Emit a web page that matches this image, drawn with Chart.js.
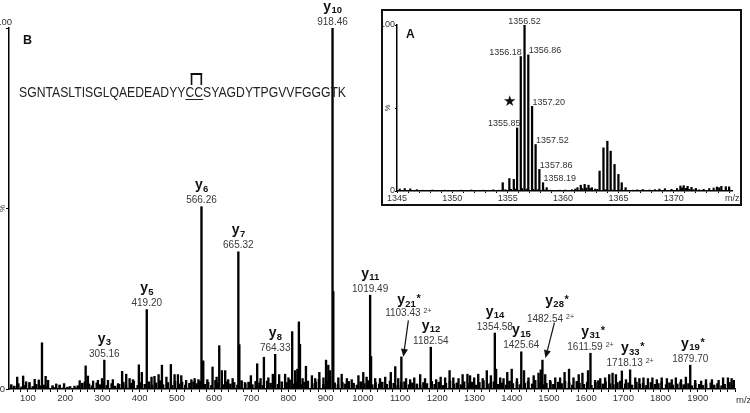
<!DOCTYPE html>
<html>
<head>
<meta charset="utf-8">
<title>MS/MS spectrum</title>
<script src="https://cdn.jsdelivr.net/npm/chart.js@4.4.1/dist/chart.umd.min.js"></script>
<style>
  html, body { margin:0; padding:0; background:#fff; }
  #wrap { position:relative; width:750px; height:413px; overflow:hidden; font-family:"Liberation Sans", Arial, sans-serif; }
  #main { position:absolute; left:0; top:0; }
  #insetBox { position:absolute; left:381px; top:9px; width:357px; height:193px; border:2px solid #111; background:#fff; }
  #inset { position:absolute; left:0; top:0; }
  .lbl { position:absolute; white-space:nowrap; line-height:1; }
  #panelB { left:23px; top:34px; font-weight:bold; font-size:12.5px; color:#111; }
  #seq { left:19px; top:83px; font-size:15px; line-height:17px; color:#222; transform-origin:0 0; }
  #cc { position:relative; text-decoration:underline; text-decoration-thickness:1px; text-underline-offset:2px; }
  #bridge { position:absolute; left:6px; right:1px; top:-10px; height:12px; border:2px solid #111; border-bottom:none; box-sizing:border-box; }
  #mzMain { left:736px; top:395px; font-size:9.5px; color:#333; }
  #panelA { left:23px; top:17px; font-weight:bold; font-size:12px; color:#111; }
  #star { left:120px; top:83px; font-size:15px; color:#111; font-family:"DejaVu Sans", sans-serif; }
  #mzInset { left:342px; top:183px; font-size:9px; color:#333; }
</style>
</head>
<body>
<div id="wrap">
  <canvas id="main" width="750" height="413"></canvas>
  <div class="lbl" id="panelB">B</div>
  <div class="lbl" id="seq">SGNTASLTISGLQAEDEADYY<span id="cc">CC<span id="bridge"></span></span>SYAGDYTPGVVFGGGTK</div>
  <div class="lbl" id="mzMain">m/z</div>
  <div id="insetBox">
    <canvas id="inset" width="357" height="193"></canvas>
    <div class="lbl" id="panelA">A</div>
    <div class="lbl" id="star">★</div>
    <div class="lbl" id="mzInset">m/z</div>
  </div>
</div>
<script>
// ---------------- DATA: main spectrum (panel B) ----------------
// prominent and secondary peaks (m/z, relative intensity %)
const peakMz = [71, 87, 95, 118, 129, 137.6, 147.5, 154, 176, 197,
  225, 239, 255, 261, 275, 288, 299, 305.16, 315, 328,
  342, 353, 364, 373, 382, 398, 406, 419.20, 432, 440,
  451, 460, 472, 484, 494, 503, 512, 525, 539, 548,
  558, 566.26, 571, 582, 596, 607, 614, 621, 630, 638,
  650, 665.32, 668, 683, 699, 716, 725, 734, 746, 758,
  764.33, 775, 791, 800, 810, 818, 824, 828, 831, 838,
  847, 863, 872, 883, 894, 901, 907, 912, 918.46, 920.5,
  934, 943, 957, 970, 988, 1001, 1010, 1019.49, 1022, 1033,
  1046, 1060, 1075, 1087, 1095, 1103.43, 1116, 1127, 1138, 1154,
  1167, 1182.54, 1197, 1209, 1221, 1233, 1243, 1257, 1268, 1281,
  1288, 1299, 1310, 1322, 1333, 1344, 1354.58, 1358, 1369, 1378,
  1388, 1400, 1414, 1425.64, 1433, 1445, 1459, 1472, 1478, 1482.54,
  1490, 1503, 1517, 1530, 1542, 1554, 1566, 1580, 1590, 1605,
  1611.59, 1624, 1638, 1651, 1662, 1671, 1680, 1696, 1707, 1718.13,
  1732, 1743, 1754, 1766, 1778, 1790, 1803, 1817, 1830, 1841,
  1855, 1868, 1879.70, 1893, 1909, 1922, 1938, 1956, 1968, 1981,
  1991, 1997];
const peakInt = [3.3, 3.6, 2.0, 2.7, 2.5, 12.8, 3.5, 2.4, 1.4, 1.5,
  0.8, 2.3, 6.4, 3.6, 2.2, 2.4, 2.9, 8.0, 2.4, 2.6,
  1.5, 4.9, 4.1, 2.9, 2.6, 6.7, 4.6, 22.0, 3.3, 3.5,
  4.0, 6.6, 3.3, 6.8, 4.0, 4.0, 3.7, 2.4, 2.6, 2.9,
  2.6, 50.5, 7.8, 2.6, 6.1, 3.3, 12.0, 5.1, 5.1, 2.6,
  2.9, 38.0, 12.3, 1.8, 3.7, 7.0, 2.9, 8.8, 3.1, 4.1,
  9.6, 4.0, 4.1, 3.1, 15.9, 5.1, 5.5, 18.6, 12.4, 2.9,
  6.3, 3.7, 2.9, 4.6, 3.1, 8.0, 6.6, 5.1, 100, 27.0,
  3.1, 4.1, 2.9, 2.6, 3.7, 4.6, 3.3, 26.0, 9.0, 2.9,
  2.9, 3.3, 4.6, 6.2, 2.9, 8.9, 2.9, 2.6, 3.1, 4.0,
  2.9, 11.6, 2.6, 3.3, 3.1, 5.1, 3.1, 2.9, 4.0, 4.1,
  3.7, 3.1, 4.1, 2.9, 5.1, 3.7, 15.5, 5.5, 3.1, 2.9,
  4.6, 5.5, 2.9, 10.3, 5.1, 3.1, 3.7, 4.4, 5.3, 8.0,
  4.0, 2.4, 3.1, 3.1, 4.6, 5.5, 3.1, 4.0, 4.4, 5.1,
  9.9, 2.4, 2.9, 3.1, 4.0, 4.4, 4.0, 5.0, 2.6, 5.3,
  3.1, 2.9, 3.1, 2.9, 3.1, 2.6, 3.1, 2.9, 2.6, 3.1,
  2.6, 3.3, 6.6, 2.4, 2.2, 2.6, 2.6, 2.4, 3.1, 3.1,
  2.9, 2.4];
// low-level baseline noise read along the axis
const grassMz = [55, 63, 74, 83, 92, 104, 113, 122, 133, 144,
  152, 166, 173, 185, 194, 206, 213, 227, 234, 246,
  253, 264, 272, 285, 293, 303, 312, 325, 334, 345,
  356, 363, 376, 384, 395, 403, 414, 425, 433, 444,
  455, 463, 476, 487, 495, 506, 514, 523, 534, 545,
  553, 562, 575, 584, 593, 604, 612, 626, 635, 644,
  654, 663, 674, 684, 693, 703, 712, 722, 731, 743,
  752, 763, 772, 782, 795, 803, 813, 822, 834, 843,
  852, 864, 873, 882, 894, 903, 911, 924, 933, 945,
  953, 962, 975, 984, 994, 1004, 1013, 1025, 1034, 1044,
  1052, 1064, 1073, 1083, 1094, 1103, 1112, 1124, 1133, 1145,
  1154, 1163, 1172, 1185, 1193, 1204, 1215, 1223, 1234, 1245,
  1253, 1264, 1272, 1284, 1293, 1305, 1313, 1324, 1335, 1343,
  1352, 1364, 1373, 1385, 1394, 1403, 1414, 1422, 1435, 1444,
  1455, 1463, 1474, 1485, 1493, 1504, 1512, 1525, 1534, 1543,
  1554, 1563, 1575, 1582, 1594, 1603, 1614, 1625, 1633, 1645,
  1652, 1664, 1673, 1684, 1692, 1705, 1714, 1723, 1735, 1744,
  1753, 1762, 1774, 1785, 1794, 1803, 1815, 1824, 1833, 1845,
  1854, 1862, 1875, 1884, 1893, 1904, 1913, 1922, 1935, 1944,
  1953, 1964, 1972, 1985, 1994];
const grassInt = [1.2, 0.8, 1.5, 0.6, 1.0, 1.8, 0.7, 1.3, 0.9, 1.1,
  0.6, 0.9, 0.4, 1.1, 0.3, 0.5, 0.7, 0.4, 0.9, 1.6,
  2.0, 1.4, 0.9, 1.7, 1.2, 2.1, 1.0, 1.5, 0.8, 1.3,
  1.9, 1.1, 1.6, 2.2, 1.0, 1.8, 1.3, 2.0, 1.1, 1.7,
  2.3, 1.2, 1.8, 1.0, 2.1, 1.4, 1.9, 1.1, 1.6, 2.0,
  1.5, 2.2, 1.3, 1.9, 1.0, 2.4, 1.6, 1.2, 2.0, 1.4,
  1.8, 1.1, 2.3, 1.5, 1.9, 1.2, 2.1, 1.7, 1.0, 2.2,
  1.6, 2.4, 1.3, 2.0, 1.8, 2.5, 1.4, 2.1, 1.2, 1.9,
  2.2, 1.5, 1.9, 2.6, 1.3, 2.0, 2.4, 1.7, 1.2, 1.8,
  1.4, 2.1, 1.6, 1.1, 2.0, 1.5, 2.3, 1.2, 1.8, 1.4,
  1.9, 1.3, 2.2, 1.6, 1.0, 1.8, 2.0, 1.2, 1.7, 1.4,
  1.1, 1.8, 1.5, 2.1, 1.3, 1.9, 1.0, 1.6, 2.2, 1.4,
  1.7, 1.2, 2.0, 1.5, 1.9, 1.1, 1.8, 2.3, 1.4, 1.6,
  2.0, 1.3, 1.7, 1.1, 2.2, 1.5, 1.9, 1.2, 1.6, 2.1,
  1.4, 2.4, 1.8, 1.2, 1.6, 2.0, 1.3, 1.9, 1.5, 2.2,
  1.7, 1.1, 2.1, 1.6, 1.3, 1.9, 1.0, 1.8, 2.3, 1.4,
  2.0, 1.5, 1.2, 1.8, 2.2, 1.4, 1.7, 1.1, 1.9, 1.3,
  1.6, 1.0, 1.8, 1.3, 1.5, 2.0, 1.2, 1.7, 1.1, 1.4,
  1.9, 1.2, 1.5, 0.9, 1.6, 1.3, 1.0, 1.4, 1.7, 1.1,
  1.5, 0.9, 1.3, 1.8, 1.0];
// annotated y-ions
const ionMz     = [305.16, 419.20, 566.26, 665.32, 764.33, 918.46, 1019.49, 1103.43, 1182.54, 1354.58, 1425.64, 1482.54, 1611.59, 1718.13, 1879.70];
const ionSub    = ['3', '5', '6', '7', '8', '10', '11', '21', '12', '14', '15', '28', '31', '33', '19'];
const ionStar   = [false, false, false, false, false, false, false, true, false, false, false, true, true, true, true];
const ionCharge = ['', '', '', '', '', '', '', '2+', '', '', '', '2+', '2+', '2+', ''];
const xTickLabels = [100, 200, 300, 400, 500, 600, 700, 800, 900, 1000, 1100, 1200, 1300, 1400, 1500, 1600, 1700, 1800, 1900];
const yTicks = [0, 50, 100];

// ---------------- DATA: inset (panel A) ----------------
const insetMz  = [1354.55, 1355.15, 1355.55, 1355.85, 1356.18, 1356.52, 1356.86, 1357.20, 1357.52, 1357.86,
  1358.19, 1358.52, 1361.3, 1361.6, 1361.95, 1362.3, 1362.6, 1363.3, 1363.65, 1364.0,
  1364.3, 1364.65, 1365.0, 1365.3, 1365.65, 1370.6, 1370.9, 1371.25, 1371.6, 1372.0,
  1373.9, 1374.3, 1374.7, 1375.0];
const insetInt = [5, 7.5, 7, 38, 81, 100, 82, 51, 28, 13,
  5, 2, 2, 3.5, 4, 3.5, 2, 12, 26, 30,
  24, 16, 10, 5, 2, 3, 3.2, 2.8, 2.2, 1.5,
  2.4, 2.8, 2.6, 2.5];
const insetGrassMz = [1345.25, 1345.7, 1346.2, 1346.8, 1347.3, 1347.75, 1348.2, 1348.8, 1349.3, 1349.7,
  1350.2, 1350.8, 1351.3, 1351.7, 1352.2, 1352.8, 1353.3, 1353.7, 1354.2, 1354.8,
  1355.3, 1355.7, 1356.3, 1356.7, 1357.3, 1357.7, 1358.3, 1358.8, 1359.3, 1359.7,
  1360.2, 1360.8, 1361.1, 1361.75, 1362.1, 1362.45, 1362.9, 1363.1, 1363.8, 1364.45,
  1365.2, 1365.8, 1366.3, 1366.7, 1367.2, 1367.8, 1368.3, 1368.7, 1369.2, 1369.8,
  1370.3, 1370.75, 1371.1, 1371.4, 1371.8, 1372.3, 1372.7, 1373.2, 1373.6, 1374.1];
const insetGrassInt = [1.2, 1.5, 1.3, 0.8, 0.5, 0.4, 0.6, 0.3, 0.5, 0.4,
  0.3, 0.5, 0.4, 0.6, 0.3, 0.5, 0.4, 0.7, 0.5, 0.8,
  1.0, 1.2, 1.5, 1.2, 1.0, 0.8, 0.6, 0.5, 0.4, 0.5,
  0.6, 0.8, 1.2, 1.5, 1.8, 1.5, 1.2, 1.0, 0.8, 0.6,
  0.6, 0.4, 0.5, 0.7, 0.9, 0.6, 0.8, 1.2, 1.4, 1.0,
  1.5, 1.8, 1.6, 1.0, 0.8, 0.7, 1.0, 1.5, 1.8, 2.0];
const insetLabelMz = [1356.52, 1356.18, 1356.86, 1357.20, 1355.85, 1357.52, 1357.86, 1358.19];
const insetTickLabels = [1345, 1350, 1355, 1360, 1365, 1370];

// ---------------- LAYOUT / STYLE ----------------
const FAM = '"Liberation Sans", Arial, sans-serif';
const NUM_FONT = '10px ' + FAM;
const ION_FONT = 'bold 14px ' + FAM;
const SUB_FONT = 'bold 9.5px ' + FAM;
const CHG_FONT = '7px ' + FAM;
const STAR_FONT = 'bold 11px ' + FAM;
const INSET_FONT = '9px ' + FAM;
// callout placement for the ions labelled with an arrow (pixel offsets)
const calloutOffsets = {
  '1103.43': { labelDx: 7, lift: 37, ionDx: -2, ionGap: 12, from: [7, 4], to: [2, 0] },
  '1482.54': { labelDx: 8, lift: 35, ionDx: 4, ionGap: 17, from: [12, 1], to: [3, -2] }
};
const insetLabelAlign = ['center', 'right', 'left', 'left', 'right', 'left', 'left', 'left'];
const insetLabelDx = [0, 1, 0.5, 0.5, 3.5, 0.5, 0.5, 0.5];

Chart.defaults.font.family = FAM;

function pts(xs, ys) { return xs.map((v, i) => ({ x: v, y: ys[i] })); }

const xMinor = [];
for (let v = 60; v <= 2000; v += 20) xMinor.push(v);
const insetMinor = [];
for (let v = 1345; v <= 1375; v += 1) insetMinor.push(v);

const mainAnnot = {
  id: 'mainAnnot',
  afterDraw(chart) {
    const ctx = chart.ctx, xs = chart.scales.x, ys = chart.scales.y;
    ctx.save();
    ctx.textBaseline = 'alphabetic';
    ctx.textAlign = 'left';
    ionMz.forEach((m, i) => {
      const k = peakMz.indexOf(m);
      const px = xs.getPixelForValue(m);
      const top = ys.getPixelForValue(peakInt[k]);
      const co = calloutOffsets[m.toFixed(2)];
      const cx = px + (co ? co.labelDx : 0);
      const numBase = top - 3.5 - (co ? co.lift : 0);
      const yBase = numBase - (co ? co.ionGap : 14);
      const num = m.toFixed(2);
      ctx.font = NUM_FONT;
      const wn = ctx.measureText(num).width;
      let wc = 0, gap = 0;
      if (ionCharge[i]) { ctx.font = CHG_FONT; wc = ctx.measureText(ionCharge[i]).width; gap = 3; }
      const sx = cx - (wn + gap + wc) / 2;
      ctx.fillStyle = '#3a3a3a';
      ctx.font = NUM_FONT; ctx.fillText(num, sx, numBase);
      if (ionCharge[i]) { ctx.font = CHG_FONT; ctx.fillText(ionCharge[i], sx + wn + gap, numBase - 3); }
      ctx.fillStyle = '#111';
      ctx.font = ION_FONT; const wy = ctx.measureText('y').width;
      ctx.font = SUB_FONT; const ws = ctx.measureText(ionSub[i]).width;
      const ix = cx + (co ? co.ionDx : 0) - (wy + ws) / 2;
      ctx.font = ION_FONT; ctx.fillText('y', ix, yBase);
      ctx.font = SUB_FONT; ctx.fillText(ionSub[i], ix + wy + 0.3, yBase + 2.7);
      if (ionStar[i]) { ctx.font = STAR_FONT; ctx.fillText('*', ix + wy + ws + 1, yBase - 2); }
      if (co) {
        const fx = px + co.from[0], fy = numBase + co.from[1];
        const tx = px + co.to[0], ty = top + co.to[1];
        const ang = Math.atan2(ty - fy, tx - fx);
        const hl = 8, hw = 3.5;
        const bx = tx - hl * Math.cos(ang), by = ty - hl * Math.sin(ang);
        ctx.strokeStyle = '#111'; ctx.lineWidth = 1.2;
        ctx.beginPath(); ctx.moveTo(fx, fy); ctx.lineTo(bx, by); ctx.stroke();
        ctx.beginPath();
        ctx.moveTo(tx, ty);
        ctx.lineTo(bx + hw * Math.sin(ang), by - hw * Math.cos(ang));
        ctx.lineTo(bx - hw * Math.sin(ang), by + hw * Math.cos(ang));
        ctx.closePath(); ctx.fill();
      }
    });
    // y-axis labels "100" and rotated "%"
    ctx.fillStyle = '#333';
    ctx.font = '9.5px ' + FAM;
    ctx.textAlign = 'right'; ctx.textBaseline = 'middle';
    ctx.fillText('100', 12, 22);
    ctx.translate(3, ys.getPixelForValue(50));
    ctx.rotate(-Math.PI / 2);
    ctx.textAlign = 'center';
    ctx.font = '8px ' + FAM;
    ctx.fillText('%', 0, 0);
    ctx.restore();
  }
};

const insetAnnot = {
  id: 'insetAnnot',
  afterDraw(chart) {
    const ctx = chart.ctx, xs = chart.scales.x, ys = chart.scales.y;
    ctx.save();
    ctx.font = INSET_FONT; ctx.fillStyle = '#333'; ctx.textBaseline = 'alphabetic';
    insetLabelMz.forEach((m, i) => {
      const k = insetMz.indexOf(m);
      const px = xs.getPixelForValue(m) + insetLabelDx[i];
      const top = ys.getPixelForValue(insetInt[k]);
      ctx.textAlign = insetLabelAlign[i];
      ctx.fillText(m.toFixed(2), px, top - 1.5);
    });
    ctx.translate(5, ys.getPixelForValue(50));
    ctx.rotate(-Math.PI / 2);
    ctx.textAlign = 'center'; ctx.textBaseline = 'middle';
    ctx.font = '7.5px ' + FAM;
    ctx.fillText('%', 0, 0);
    ctx.restore();
  }
};

function axisCommon(tickLen) {
  return {
    grid: { display: true, drawOnChartArea: false, drawTicks: true, tickLength: tickLen, color: '#000', offset: false },
    border: { display: true, color: '#000', width: 1.5 }
  };
}

new Chart(document.getElementById('main'), {
  type: 'bar',
  data: { datasets: [
    { data: pts(peakMz, peakInt), backgroundColor: '#000', barThickness: 1.7 },
    { data: pts(grassMz, grassInt), backgroundColor: '#000', barThickness: 2.0 }
  ] },
  options: {
    responsive: false, animation: false, devicePixelRatio: 1,
    datasets: { bar: { grouped: false } },
    layout: { padding: { left: 0, top: 28, right: 15, bottom: 0 } },
    plugins: { legend: { display: false }, tooltip: { enabled: false } },
    scales: {
      x: Object.assign(axisCommon(3), {
        type: 'linear', min: 49, max: 2000, offset: false,
        afterBuildTicks: s => { s.ticks = xMinor.map(v => ({ value: v })); },
        afterFit: s => { s.height = 24; },
        ticks: { autoSkip: false, maxRotation: 0, minRotation: 0, padding: 1, color: '#333', font: { size: 9.5 },
          callback: v => xTickLabels.includes(v) ? String(v) : '' }
      }),
      y: Object.assign(axisCommon(3), {
        min: 0, max: 100,
        afterBuildTicks: s => { s.ticks = yTicks.map(v => ({ value: v })); },
        afterFit: s => { s.width = 9; },
        ticks: { padding: 1, color: '#333', font: { size: 9.5 }, callback: v => v === 0 ? '0' : '' }
      })
    }
  },
  plugins: [mainAnnot]
});

new Chart(document.getElementById('inset'), {
  type: 'bar',
  data: { datasets: [
    { data: pts(insetMz, insetInt), backgroundColor: '#000', barThickness: 1.6 },
    { data: pts(insetGrassMz, insetGrassInt), backgroundColor: '#000', barThickness: 1.4 }
  ] },
  options: {
    responsive: false, animation: false, devicePixelRatio: 1,
    datasets: { bar: { grouped: false } },
    layout: { padding: { left: 0, top: 14, right: 8, bottom: 0 } },
    plugins: { legend: { display: false }, tooltip: { enabled: false } },
    scales: {
      x: Object.assign(axisCommon(2), {
        type: 'linear', min: 1345, max: 1375.26, offset: false,
        afterBuildTicks: s => { s.ticks = insetMinor.map(v => ({ value: v })); },
        afterFit: s => { s.height = 13; },
        ticks: { autoSkip: false, maxRotation: 0, minRotation: 0, padding: 0, color: '#333', font: { size: 9 },
          callback: v => insetTickLabels.includes(v) ? String(v) : '' }
      }),
      y: Object.assign(axisCommon(2), {
        min: 0, max: 100,
        afterBuildTicks: s => { s.ticks = yTicks.map(v => ({ value: v })); },
        afterFit: s => { s.width = 14; },
        ticks: { padding: 0, color: '#333', font: { size: 9 }, callback: v => v === 50 ? '' : String(v) }
      })
    }
  },
  plugins: [insetAnnot]
});

// fit the peptide sequence to its width in the figure
const seq = document.getElementById('seq');
const w = seq.getBoundingClientRect().width;
seq.style.transform = 'scaleX(' + (327 / w).toFixed(4) + ')';
</script>
</body>
</html>
